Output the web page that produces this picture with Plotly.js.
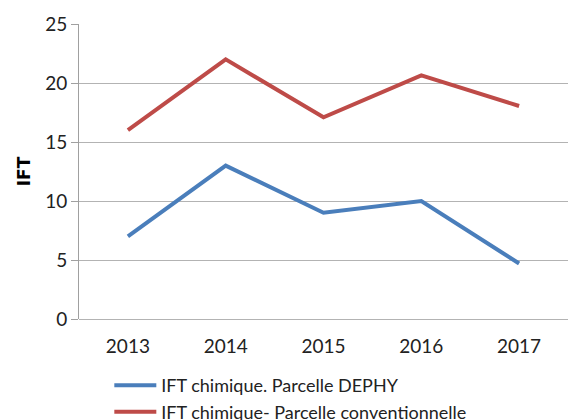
<!DOCTYPE html>
<html>
<head>
<meta charset="utf-8">
<script src="https://cdn.plot.ly/plotly-3.0.1.min.js"></script>
<style>html,body{margin:0;padding:0;background:#fff}#chart{width:568px;height:420px}</style>
</head>
<body>
<div id="chart"></div>
<script>
const years = ['2013', '2014', '2015', '2016', '2017'];
const dephy = [7, 13, 9, 10, 4.7];
const conventionnelle = [16, 22, 17.1, 20.65, 18.05];
const seriesNames = ['IFT chimique. Parcelle DEPHY', 'IFT chimique- Parcelle conventionnelle'];
const yTicks = [0, 5, 10, 15, 20, 25];

const font = 'Lato, Open Sans, sans-serif';

const data = [
  {x: years, y: dephy, name: seriesNames[0], type: 'scatter', mode: 'lines',
   line: {color: '#4a7ebb', width: 4}},
  {x: years, y: conventionnelle, name: seriesNames[1], type: 'scatter', mode: 'lines',
   line: {color: '#be4b48', width: 4}}
];

const layout = {
  width: 568, height: 420,
  margin: {l: 79, r: 0, t: 24, b: 101, pad: 0, autoexpand: false},
  paper_bgcolor: '#fff', plot_bgcolor: '#fff',
  font: {family: font, size: 17, color: '#222'},
  showlegend: true,
  legend: {x: 0.062, y: -0.163, xanchor: 'left', yanchor: 'top', orientation: 'v',
           itemwidth: 42,
           font: {family: font, size: 18, color: '#222'}, tracegroupgap: 0,
           bgcolor: 'rgba(0,0,0,0)'},
  xaxis: {type: 'category', range: [-0.5, 4.5], showgrid: false, zeroline: false,
          showline: false, ticks: '', ticklabelstandoff: 14,
          tickfont: {family: font, size: 19, color: '#222'}},
  yaxis: {range: [0, 25], tickvals: yTicks, ticktext: yTicks.map(String),
          showgrid: true, gridcolor: '#b3b3b3', gridwidth: 1,
          zeroline: true, zerolinecolor: '#b3b3b3', zerolinewidth: 1,
          showline: true, linecolor: '#a0a0a0', linewidth: 1,
          ticks: 'outside', ticklen: 7, tickcolor: '#a0a0a0',
          tickfont: {family: font, size: 19, color: '#222'},
          title: {text: '<b>IFT</b>', font: {family: 'DejaVu Sans, sans-serif', size: 17, color: '#000'}, standoff: 10}}
};

Plotly.newPlot('chart', data, layout, {displayModeBar: false, staticPlot: true});
</script>
</body>
</html>
